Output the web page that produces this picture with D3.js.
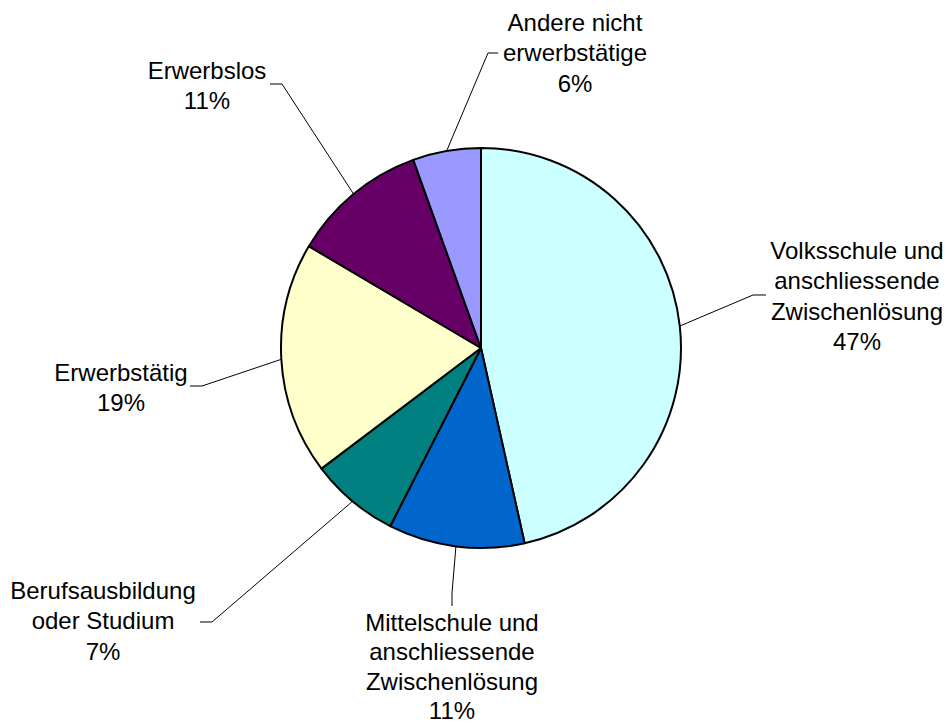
<!DOCTYPE html>
<html>
<head>
<meta charset="utf-8">
<script src="https://cdn.jsdelivr.net/npm/d3@7"></script>
<style>
  html, body { margin: 0; padding: 0; background: #fff; }
  svg { display: block; }
  text { font-family: "Liberation Sans", Arial, sans-serif; fill: #000; }
</style>
</head>
<body>
<svg id="chart" width="950" height="724"></svg>
<script>
// ---- data ----
const categories = [
  "Volksschule und anschliessende Zwischenlösung",
  "Mittelschule und anschliessende Zwischenlösung",
  "Berufsausbildung oder Studium",
  "Erwerbstätig",
  "Erwerbslos",
  "Andere nicht erwerbstätige"
];
const labelLines = [
  ["Volksschule und", "anschliessende", "Zwischenlösung"],
  ["Mittelschule und", "anschliessende", "Zwischenlösung"],
  ["Berufsausbildung", "oder Studium"],
  ["Erwerbstätig"],
  ["Erwerbslos"],
  ["Andere nicht", "erwerbstätige"]
];
const values = [46.5, 11.0, 7.2, 18.8, 11.0, 5.5];
const colors = ["#CCFFFF", "#0066CC", "#008080", "#FFFFCC", "#660066", "#9999FF"];

// ---- layout (label placement, leader-line elbows) ----
const labelPos = [
  { x: 857, y: 250, elbow: [753, 295], end: [766, 295] },
  { x: 452, y: 622, lineH: 29.5, elbow: [452, 593], end: [452, 606] },
  { x: 103, y: 590, elbow: [212, 622], end: [200, 622] },
  { x: 121, y: 372, elbow: [202, 386], end: [190, 386] },
  { x: 207, y: 70,  elbow: [282, 84],  end: [270, 84] },
  { x: 575, y: 22,  elbow: [488, 53],  end: [498, 53] }
];

const cx = 481, cy = 348, R = 200, lineH = 30.5, fontSize = 24;

const svg = d3.select("#chart");
const data = categories.map((c, i) => ({ name: c, value: values[i], color: colors[i], lines: labelLines[i], pos: labelPos[i] }));

const pie = d3.pie().value(d => d.value).sort(null);
const arcs = pie(data);
const arc = d3.arc().innerRadius(0).outerRadius(R);

const g = svg.append("g").attr("transform", `translate(${cx},${cy})`);
g.selectAll("path.slice")
  .data(arcs)
  .join("path")
  .attr("class", "slice")
  .attr("d", arc)
  .attr("fill", d => d.data.color)
  .attr("stroke", "#000")
  .attr("stroke-width", 2)
  .attr("stroke-linejoin", "round");

// leader lines and labels
const total = d3.sum(values);
arcs.forEach(a => {
  const mid = (a.startAngle + a.endAngle) / 2;
  const px = cx + R * Math.sin(mid), py = cy - R * Math.cos(mid);
  const p = a.data.pos;
  const lh = p.lineH || lineH;
  svg.append("polyline")
    .attr("points", [[px, py], p.elbow, p.end].map(q => q.join(",")).join(" "))
    .attr("fill", "none")
    .attr("stroke", "#000")
    .attr("stroke-width", 1);
  const lines = a.data.lines.concat([Math.round(a.data.value / total * 100) + "%"]);
  const t = svg.append("text")
    .attr("text-anchor", "middle")
    .attr("font-size", fontSize);
  lines.forEach((ln, i) => {
    t.append("tspan")
      .attr("x", p.x)
      .attr("y", p.y + i * lh)
      .attr("dominant-baseline", "central")
      .text(ln);
  });
});
</script>
</body>
</html>
